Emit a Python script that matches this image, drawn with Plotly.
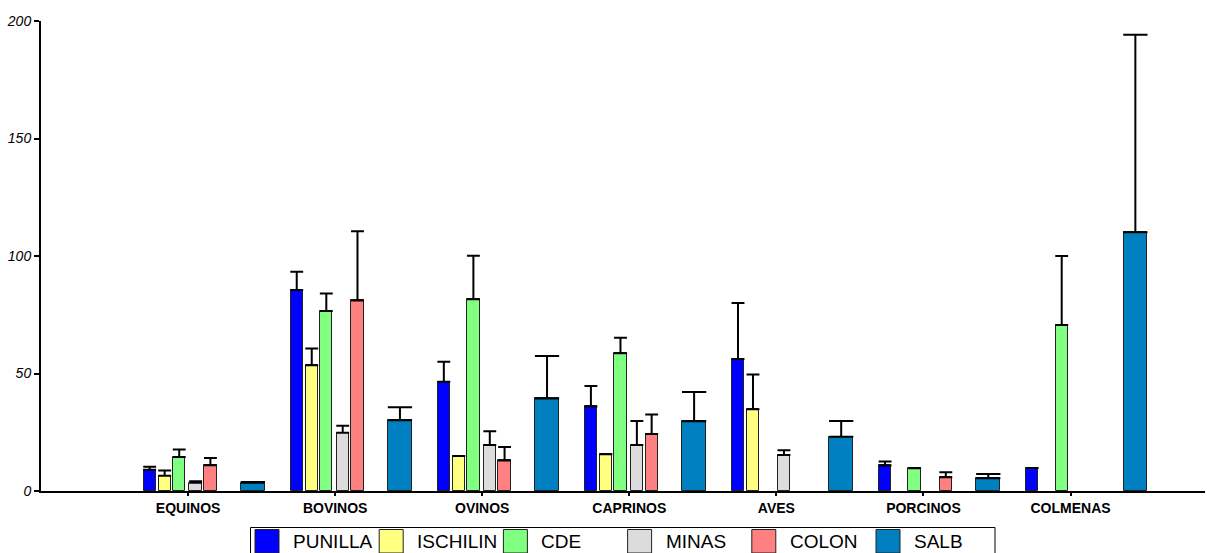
import plotly.graph_objects as go

# Categories (x axis) and series
categories = ["EQUINOS", "BOVINOS", "OVINOS", "CAPRINOS", "AVES", "PORCINOS", "COLMENAS"]
series_names = ["PUNILLA", "ISCHILIN", "CDE", "MINAS", "COLON", "SALB"]

# Mean values per series (None = no bar)
punilla = [9.0, 85.5, 46.5, 36.0, 56.2, 10.9, 9.8]
ischilin = [6.5, 53.5, 14.9, 15.6, 34.8, None, None]
cde = [14.5, 76.6, 81.6, 58.6, None, 9.7, 70.6]
minas = [3.5, 24.8, 19.6, 19.6, 15.3, None, None]
colon = [11.0, 81.1, 13.0, 24.3, None, 5.8, None]
salb = [3.5, 30.1, 39.4, 29.7, 23.1, 5.4, 110.1]

# Upper error (None = no error bar)
punilla_err = [1.3, 7.8, 8.5, 8.7, 23.8, 1.7, None]
ischilin_err = [2.2, 7.1, None, None, 14.8, None, None]
cde_err = [3.2, 7.4, 18.5, 6.6, None, None, 29.4]
minas_err = [0.6, 3.0, 5.8, 10.2, 2.0, None, None]
colon_err = [3.0, 29.4, 5.7, 8.3, None, 2.2, None]
salb_err = [0.3, 5.5, 18.0, 12.4, 6.7, 1.8, 84.1]

values = [punilla, ischilin, cde, minas, colon, salb]
errors = [punilla_err, ischilin_err, cde_err, minas_err, colon_err, salb_err]
colors = ["#0000FF", "#FFFF80", "#80FF80", "#DCDCDC", "#FF8080", "#0080C0"]

# bar placement within each category (in category units)
offsets = [-0.303, -0.201, -0.102, 0.0095, 0.110, 0.360]
widths = [0.0836, 0.0836, 0.0836, 0.0836, 0.0836, 0.161]

# plot-area geometry in pixels
W, H = 1207, 553
ML, MR, MT, MB = 41, 2, 21, 62
PW, PH = W - ML - MR, H - MT - MB


def px_x(px):
    return (px - ML) / PW


def px_y(py):
    return (H - MB - py) / PH


fig = go.Figure()
for name, vals, errs, col, off, wd in zip(series_names, values, errors, colors, offsets, widths):
    half_px = wd * 147.1 / 2 + 0.3
    fig.add_trace(go.Bar(
        x=categories,
        y=vals,
        name=name,
        offset=off,
        width=wd,
        marker=dict(color=col, line=dict(color="#222222", width=1)),
        error_y=dict(type="data", symmetric=False, array=errs,
                     arrayminus=[0 if e is not None else None for e in errs],
                     color="black", thickness=2, width=half_px),
        showlegend=False,
    ))

fig.update_layout(
    width=W, height=H,
    margin=dict(l=ML, r=MR, t=MT, b=MB, pad=0),
    paper_bgcolor="white", plot_bgcolor="white",
    barmode="overlay",
    bargap=0,
    xaxis=dict(
        type="category",
        range=[-1.0, 6.914],
        showline=True, linecolor="black", linewidth=2,
        ticks="outside", ticklen=3, tickwidth=1.5, tickcolor="black",
        tickfont=dict(family="Liberation Sans, Arial, sans-serif", size=14, color="black", weight="bold"),
        showgrid=False, zeroline=False, fixedrange=True,
    ),
    yaxis=dict(
        range=[0, 200],
        tickvals=[0, 50, 100, 150, 200],
        ticktext=["0", "50", "100", "150", "200"],
        showline=True, linecolor="black", linewidth=2,
        ticks="outside", ticklen=5, tickwidth=1.5, tickcolor="black",
        tickfont=dict(family="Liberation Sans, Arial, sans-serif", size=14, color="black", style="italic"),
        showgrid=False, zeroline=False, fixedrange=True,
    ),
)

# Legend drawn as a boxed row of colour swatches
shapes = [dict(type="rect", xref="paper", yref="paper",
               x0=px_x(250.5), x1=px_x(995), y0=px_y(560), y1=px_y(527.5),
               line=dict(color="black", width=1), fillcolor="rgba(0,0,0,0)", layer="above")]
annotations = []
for i, (name, col) in enumerate(zip(series_names, colors)):
    left = 255 + i * 124.2
    shapes.append(dict(type="rect", xref="paper", yref="paper",
                       x0=px_x(left), x1=px_x(left + 24), y0=px_y(553), y1=px_y(529.5),
                       line=dict(color="#222222", width=1), fillcolor=col, layer="above"))
    annotations.append(dict(x=px_x(left + 36), y=px_y(541.5), xref="paper", yref="paper",
                            text=name, showarrow=False, xanchor="left", yanchor="middle",
                            font=dict(family="Liberation Sans Narrow, Arial Narrow, Liberation Sans, Arial, sans-serif",
                                      size=19, color="black")))

fig.update_layout(shapes=shapes, annotations=annotations)

fig.write_html("out.html")
